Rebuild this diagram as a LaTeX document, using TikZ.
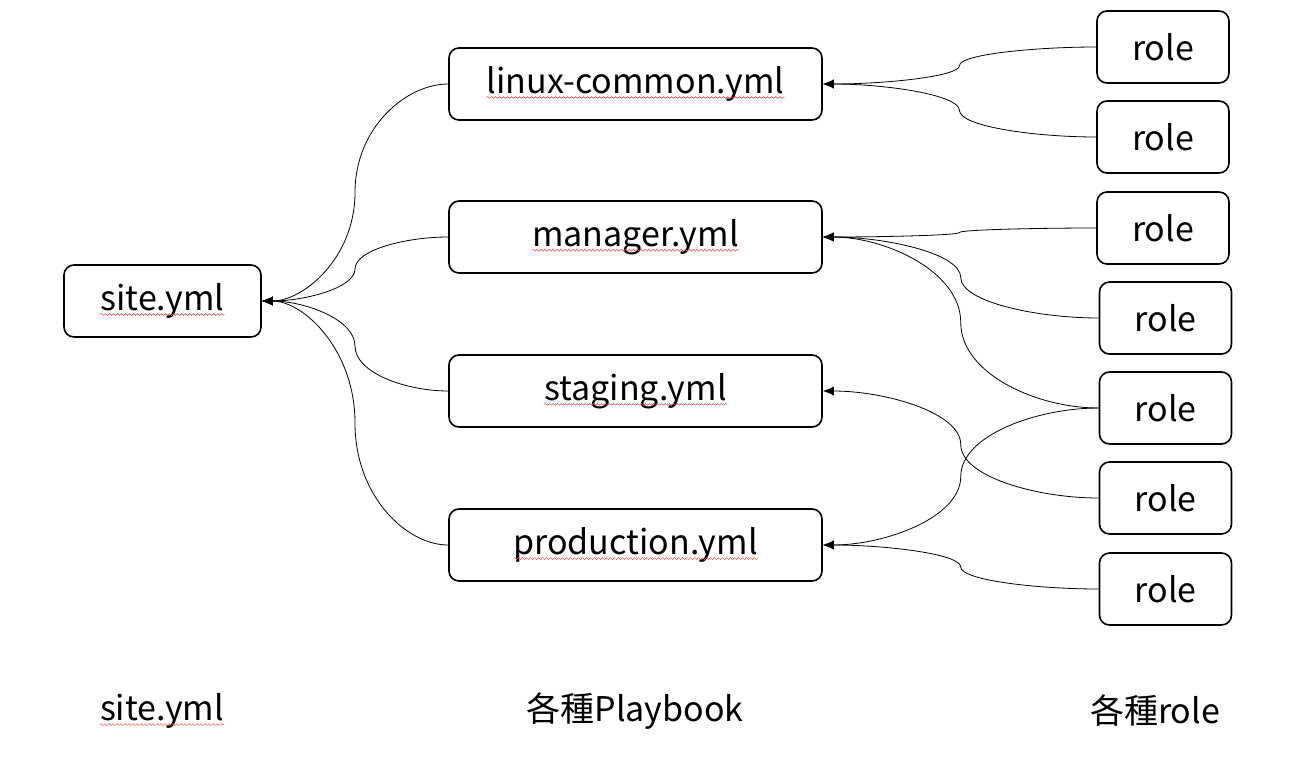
\documentclass[tikz,border=0pt]{standalone}
\usepackage{fontspec}
\setmainfont{Noto Sans CJK JP}
\usetikzlibrary{arrows.meta,calc,decorations.pathmorphing}

\begin{document}
\begin{tikzpicture}[
    x=1pt, y=-1pt,
    box/.style={draw, line width=1.6pt, rounded corners=10pt, minimum height=72pt,
        inner sep=0pt, font=\fontsize{34}{40}\selectfont},
    txt/.style={inner sep=0pt, font=\fontsize{34}{40}\selectfont},
    wave/.style={red!70, line width=0.5pt, decorate,
        decoration={snake, segment length=4pt, amplitude=1pt}},
    link/.style={line width=0.8pt, -{Latex[length=11pt,width=9pt]},
        to path={let \p1=(\tikztostart), \p2=(\tikztotarget),
            \p3=($(\p1)!0.5!(\p2)$) in
          .. controls ($(\p1)!0.45!(\x3,\y1)$) and ($(\p3)!0.6!(\x3,\y1)$) .. (\p3)
          .. controls ($(\p3)!0.6!(\x3,\y2)$) and ($(\p2)!0.45!(\x3,\y2)$) .. (\tikztotarget)
          \tikztonodes}}
]
\useasboundingbox (0,0) rectangle (1296,769);

% site.yml
\node[box, minimum width=197pt] (site) at (162.5,301) {};
\node[txt] (sitetxt) at (site) {site.yml};

% playbooks
\node[box, minimum width=373pt] (linux) at (635.5,84) {};
\node[box, minimum width=373pt] (manager) at (635.5,237) {};
\node[box, minimum width=373pt] (staging) at (635.5,391) {};
\node[box, minimum width=373pt] (production) at (635.5,545) {};
\node[txt] (linuxtxt) at (linux) {linux-common.yml};
\node[txt] (managertxt) at (manager) {manager.yml};
\node[txt] (stagingtxt) at (staging) {staging.yml};
\node[txt] (productiontxt) at (production) {production.yml};

% roles
\node[box, minimum width=132pt] (r1) at (1163,47) {role};
\node[box, minimum width=132pt] (r2) at (1163,137) {role};
\node[box, minimum width=132pt] (r3) at (1163,228) {role};
\node[box, minimum width=132pt] (r4) at (1165.5,318) {role};
\node[box, minimum width=132pt] (r5) at (1165.5,408) {role};
\node[box, minimum width=132pt] (r6) at (1165.5,498) {role};
\node[box, minimum width=132pt] (r7) at (1165.5,589) {role};

% captions
\node[txt] (capsite) at (162,711) {site.yml};
\node[txt] (capbook) at (635,711) {各種Playbook};
\node[txt] (caprole) at (1155,711) {各種role};

% spell-check underlines
\foreach \t in {sitetxt,linuxtxt,managertxt,stagingtxt,productiontxt,capsite}
  \draw[wave] ([yshift=-4pt]\t.base west) -- ([yshift=-4pt]\t.base east);

% playbooks -> site.yml
\draw[link] (linux.west) to (site.east);
\draw[link] (manager.west) to (site.east);
\draw[link] (staging.west) to (site.east);
\draw[link] (production.west) to (site.east);

% roles -> playbooks
\draw[link] (r1.west) to (linux.east);
\draw[link] (r2.west) to (linux.east);
\draw[link] (r3.west) to (manager.east);
\draw[link] (r4.west) to (manager.east);
\draw[link] (r5.west) to (manager.east);
\draw[link] (r6.west) to (staging.east);
\draw[link] (r5.west) to (production.east);
\draw[link] (r7.west) to (production.east);
\end{tikzpicture}
\end{document}
